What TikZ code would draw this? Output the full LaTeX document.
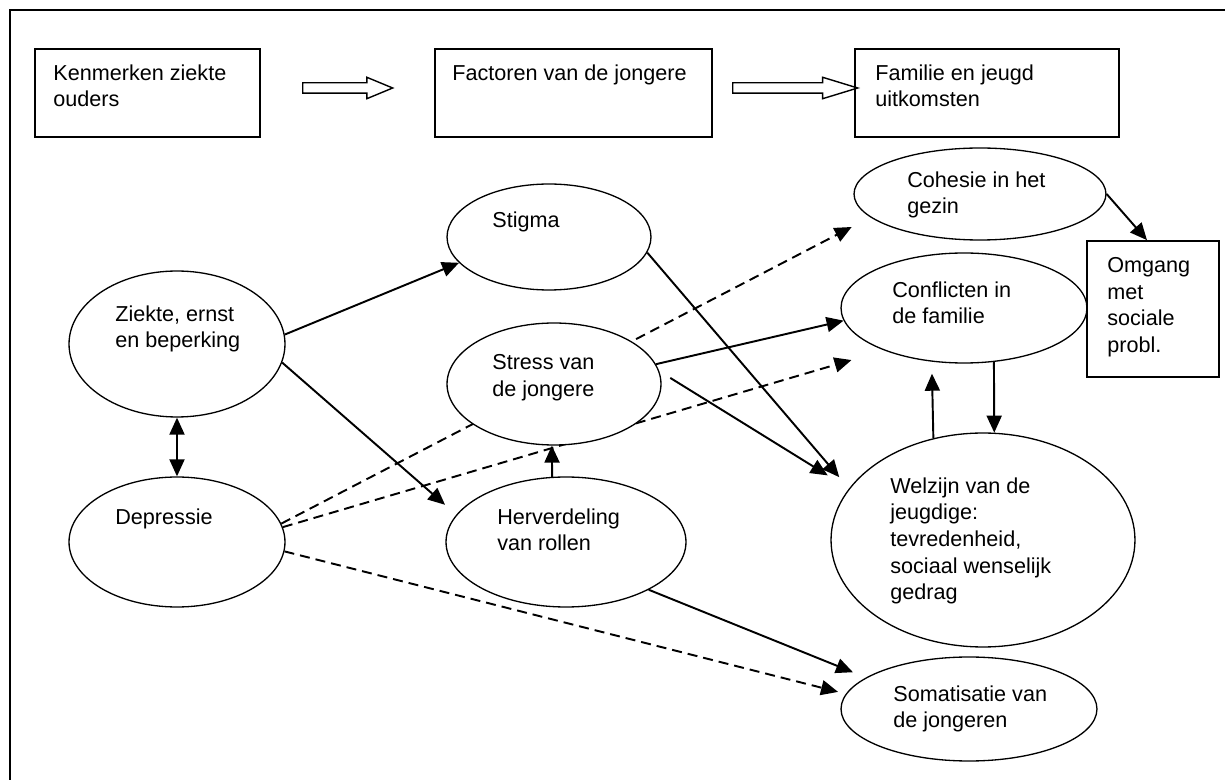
\documentclass[tikz,border=0pt]{standalone}
\usepackage{fontspec}
\setmainfont{Liberation Sans}
\usetikzlibrary{arrows.meta,shapes.geometric,shapes.arrows,backgrounds}

\begin{document}
\begin{tikzpicture}[x=0.02cm, y=-0.02cm, >={Triangle[length=0.34cm,width=0.3cm]}]
  \tikzstyle{box}=[rectangle, draw, line width=1.1pt, inner sep=0pt]
  \tikzstyle{oval}=[ellipse, draw, line width=0.75pt, fill=white, inner sep=0pt]
  \tikzstyle{txt}=[anchor=north west, align=left, inner sep=0pt, font=\fontsize{12.3}{15.2}\selectfont]
  \tikzstyle{hol}=[single arrow, draw, line width=0.8pt, inner xsep=0pt, inner ysep=0.09cm,
                   single arrow head extend=0.11cm, anchor=tail]
  \tikzstyle{pijl}=[->, line width=1.1pt]
  \tikzstyle{stippel}=[->, line width=1.1pt, dash pattern=on 0.2cm off 0.12cm]

  \useasboundingbox (0,0) rectangle (1225,780);
  \clip (0,0) rectangle (1225,780);
  \draw[line width=1.1pt] (10,800) -- (10,10) -- (1240,10);

  % bovenste rij
  \node[box, minimum width=4.5cm,  minimum height=1.76cm] (kenm) at (147.5, 93) {};
  \node[box, minimum width=5.54cm, minimum height=1.76cm] (fact) at (573.5, 93) {};
  \node[box, minimum width=5.28cm, minimum height=1.76cm] (fam)  at (987,   93) {};
  \node[txt] (tkenm) at (53,  64) {Kenmerken ziekte\\ouders};
  \node[txt] (tfact) at (452, 64) {Factoren van de jongere};
  \node[txt] (tfam)  at (875, 64) {Familie en jeugd\\uitkomsten};

  \node[hol, minimum height=1.8cm, single arrow tip angle=45] (h1) at (302, 88) {};
  \node[hol, minimum height=2.5cm, single arrow tip angle=34] (h2) at (732, 88) {};

  % ouders
  \node[oval, minimum width=4.32cm, minimum height=2.92cm] (ziekte) at (177, 344) {};
  \node[oval, minimum width=4.32cm, minimum height=2.6cm]  (depr)   at (177, 542) {};

  % jongere
  \node[oval, minimum width=4.08cm, minimum height=2.12cm] (stigma) at (549, 237) {};
  \node[oval, minimum width=4.28cm, minimum height=2.44cm] (stress) at (554, 384) {};
  \node[oval, minimum width=4.8cm,  minimum height=2.6cm]  (herv)   at (566, 542) {};

  % uitkomsten
  \node[oval, minimum width=5.04cm, minimum height=1.84cm] (cohesie) at (980, 194) {};
  \node[oval, minimum width=4.92cm, minimum height=2.2cm]  (confl)   at (964, 308) {};
  \node[oval, minimum width=6.08cm, minimum height=4.28cm] (welzijn) at (983, 540) {};
  \node[oval, minimum width=5.12cm, minimum height=2.08cm] (somat)   at (969, 709) {};
  \node[box, line width=1pt, minimum width=2.64cm, minimum height=2.72cm] (omgang) at (1153, 309) {};

  \node[txt] (tziekte)  at (115, 305) {Ziekte, ernst\\en beperking};
  \node[txt] (tdepr)    at (115, 508) {Depressie};
  \node[txt] (tstigma)  at (492, 211) {Stigma};
  \node[txt] (tstress)  at (492, 354) {Stress van\\de jongere};
  \node[txt] (therv)    at (497, 508) {Herverdeling\\van rollen};
  \node[txt] (tcohesie) at (907, 171) {Cohesie in het\\gezin};
  \node[txt] (tconfl)   at (892, 281) {Conflicten in\\de familie};
  \node[txt] (twelzijn) at (890, 477) {Welzijn van de\\jeugdige:\\tevredenheid,\\sociaal wenselijk\\gedrag};
  \node[txt] (tsomat)   at (893, 685) {Somatisatie van\\de jongeren};
  \node[txt] (tomgang)  at (1107, 257) {Omgang\\met\\sociale\\probl.};

  \begin{pgfonlayer}{background}
  \path (ziekte.5)   edge[pijl] (stigma.196);
  \path (ziekte.-10) edge[pijl, shorten >=0.3cm] (herv.166);
  \path (ziekte.south) edge[pijl, <->] (depr.north);
  \path (depr.10)  edge[stippel, shorten >=0.42cm] (cohesie.192.6);
  \path (depr.8)   edge[stippel, shorten >=0.68cm] (confl.208.5);
  \path (depr.-5)  edge[stippel, shorten >=0.16cm] (somat.173.5);
  \path (herv.102) edge[pijl] (stress.268);
  \path (herv.-30) edge[pijl, shorten >=0.28cm] (somat.163.6);
  \path (stigma.-9) edge[pijl, shorten >=0.3cm] (welzijn.159);
  \path (stress.11) edge[pijl] (confl.186.5);
  \path (stress.7)  edge[pijl, shorten <=0.26cm, shorten >=0.5cm] (welzijn.159);
  \path (confl.-61.5)    edge[pijl] (welzijn.84.7);
  \path (welzijn.116.3)  edge[pijl, shorten >=0.24cm] (confl.239.8);
  \path (cohesie.east)   edge[pijl] (omgang.95);
  \end{pgfonlayer}

\end{tikzpicture}
\end{document}
